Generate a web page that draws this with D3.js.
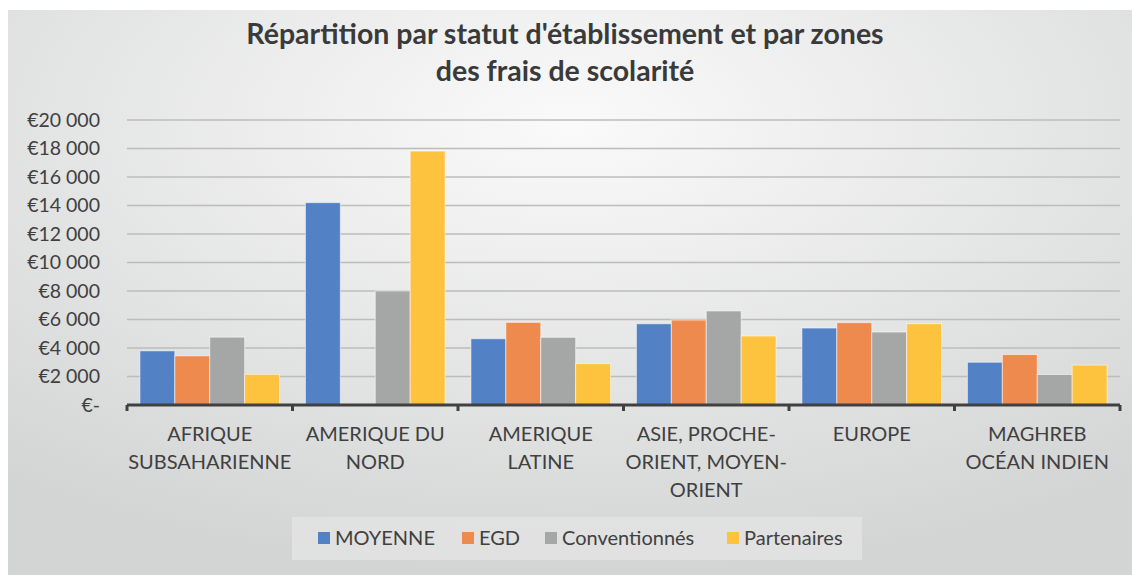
<!DOCTYPE html>
<html>
<head>
<meta charset="utf-8">
<script src="https://cdn.jsdelivr.net/npm/d3@7"></script>
<style>
  body { margin: 0; background: #ffffff; }
  svg { display: block; font-family: Lato, "Open Sans", sans-serif; }
</style>
</head>
<body>
<div id="chart"></div>
<script>
// zones (multi-line labels as in the original)
var zones = [
    ["AFRIQUE", "SUBSAHARIENNE"],
    ["AMERIQUE DU", "NORD"],
    ["AMERIQUE", "LATINE"],
    ["ASIE, PROCHE-", "ORIENT, MOYEN-", "ORIENT"],
    ["EUROPE"],
    ["MAGHREB", "OCÉAN INDIEN"]
];
var series = ["MOYENNE", "EGD", "Conventionnés", "Partenaires"];
var moyenne       = [3800, 14200, 4650, 5700, 5400, 3000];
var egd           = [3450, 0, 5800, 5960, 5780, 3540];
var conventionnes = [4760, 8000, 4750, 6600, 5120, 2140];
var partenaires   = [2150, 17820, 2900, 4840, 5700, 2800];
var yTicks = [0, 2000, 4000, 6000, 8000, 10000, 12000, 14000, 16000, 18000, 20000];
var colors = ["#5281c5", "#ef8a4e", "#a5a6a6", "#fdc23e"];

var width = 1132, height = 575;
var values = [moyenne, egd, conventionnes, partenaires];
var zoneKeys = zones.map(function(z) { return z.join(" "); });

var rows = zoneKeys.map(function(k, i) {
    return { zone: k, lines: zones[i], vals: series.map(function(s, j) { return { key: s, value: values[j][i] }; }) };
});

var svg = d3.select("#chart").append("svg")
    .attr("width", width)
    .attr("height", height);

var defs = svg.append("defs");
var grad = defs.append("radialGradient")
    .attr("id", "bg")
    .attr("cx", "50%").attr("cy", "20%").attr("r", "80%");
grad.append("stop").attr("offset", "0%").attr("stop-color", "#fafafa");
grad.append("stop").attr("offset", "100%").attr("stop-color", "#d3d4d4");

svg.append("rect")
    .attr("x", 8).attr("y", 10)
    .attr("width", width - 8).attr("height", height - 10)
    .attr("fill", "url(#bg)");

// title
var title = svg.append("text")
    .attr("text-anchor", "middle")
    .style("font-size", "28.5px")
    .style("font-weight", "bold")
    .attr("fill", "#3a3a3a");
title.append("tspan").attr("x", 565).attr("y", 44).text("Répartition par statut d'établissement et par zones");
title.append("tspan").attr("x", 565).attr("y", 81).text("des frais de scolarité");

var x0 = d3.scaleBand()
    .domain(zoneKeys)
    .range([127, 1120]);

var x1 = d3.scaleBand()
    .domain(series)
    .range([0, x0.bandwidth()])
    .paddingOuter(0.37);

var y = d3.scaleLinear()
    .domain([0, 20000])
    .range([405, 120]);

var color = d3.scaleOrdinal().domain(series).range(colors);

// gridlines
svg.append("g")
    .selectAll("line")
    .data(yTicks.filter(function(d) { return d > 0; }))
    .enter()
    .append("line")
    .attr("x1", 127).attr("x2", 1120)
    .attr("y1", function(d) { return y(d); })
    .attr("y2", function(d) { return y(d); })
    .attr("stroke", "#bcbcbc")
    .attr("stroke-width", 1.5);

// y labels
var fmt = d3.format(",");
svg.append("g")
    .selectAll("text")
    .data(yTicks)
    .enter()
    .append("text")
    .attr("x", 100)
    .attr("y", function(d) { return y(d); })
    .attr("dy", "0.35em")
    .attr("text-anchor", "end")
    .style("font-size", "19.5px")
    .attr("fill", "#404040")
    .text(function(d) { return d === 0 ? "€-" : "€" + fmt(d).replace(/,/g, " "); });

// bars
svg.append("g")
    .selectAll("g")
    .data(rows)
    .enter()
    .append("g")
    .attr("transform", function(d) { return "translate(" + x0(d.zone) + ",0)"; })
    .selectAll("rect")
    .data(function(d) { return d.vals.filter(function(v) { return v.value > 0; }); })
    .enter()
    .append("rect")
    .attr("x", function(d) { return x1(d.key); })
    .attr("y", function(d) { return y(d.value); })
    .attr("width", x1.bandwidth())
    .attr("height", function(d) { return y(0) - y(d.value); })
    .attr("fill", function(d) { return color(d.key); })
    .attr("stroke", "rgba(255,255,255,0.55)")
    .attr("stroke-width", 1);

// x axis
var xAxis = svg.append("g")
    .attr("transform", "translate(0,405)")
    .call(d3.axisBottom(x0).tickSize(0).tickFormat(""));
xAxis.select(".domain").remove();
xAxis.append("line")
    .attr("x1", 127).attr("x2", 1120)
    .attr("stroke", "#404040").attr("stroke-width", 3);
var bounds = zoneKeys.map(function(k) { return x0(k); }).concat([x0.range()[1]]);
xAxis.selectAll(".bound")
    .data(bounds)
    .enter()
    .append("line")
    .attr("class", "bound")
    .attr("x1", function(d) { return d; }).attr("x2", function(d) { return d; })
    .attr("y1", 0).attr("y2", 6)
    .attr("stroke", "#404040").attr("stroke-width", 3);

var catLabels = svg.append("g")
    .selectAll("text")
    .data(rows)
    .enter()
    .append("text")
    .attr("text-anchor", "middle")
    .style("font-size", "20px")
    .attr("fill", "#404040");
catLabels.selectAll("tspan")
    .data(function(d) { return d.lines.map(function(l) { return { l: l, zone: d.zone }; }); })
    .enter()
    .append("tspan")
    .attr("x", function(d) { return x0(d.zone) + x0.bandwidth() / 2; })
    .attr("y", function(d, i) { return 441 + i * 28; })
    .text(function(d) { return d.l; });

// legend
var legend = svg.append("g");
legend.append("rect")
    .attr("x", 292).attr("y", 517)
    .attr("width", 570).attr("height", 43)
    .attr("fill", "#e3e4e4")
    .attr("opacity", 0.8);
var legendX = [318, 462, 545, 727];
var items = legend.selectAll("g.item")
    .data(series)
    .enter()
    .append("g")
    .attr("class", "item")
    .attr("transform", function(d, i) { return "translate(" + legendX[i] + ",538)"; });
items.append("rect")
    .attr("x", 0).attr("y", -6)
    .attr("width", 12).attr("height", 12)
    .attr("fill", function(d) { return color(d); });
items.append("text")
    .attr("x", 17).attr("dy", "0.35em")
    .style("font-size", "20px")
    .attr("fill", "#404040")
    .text(function(d) { return d; });
</script>
</body>
</html>
